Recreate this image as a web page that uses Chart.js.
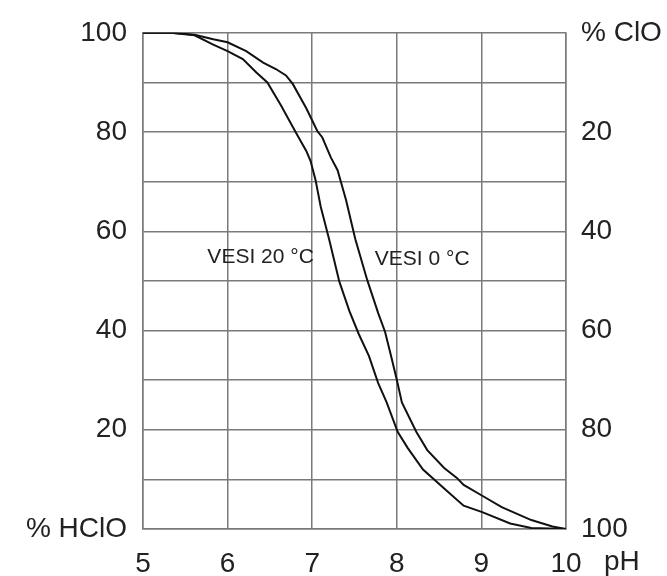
<!DOCTYPE html>
<html>
<head>
<meta charset="utf-8">
<script src="https://cdn.jsdelivr.net/npm/chart.js@4.4.0/dist/chart.umd.min.js"></script>
<style>
  html, body { margin: 0; padding: 0; background: #fff; }
</style>
</head>
<body>
<canvas id="mycanvas" width="667" height="576"></canvas>
<script>
// pH values and % HClO
var ph20 = [5, 5.33, 5.61, 5.83, 6.0, 6.18, 6.34, 6.47, 6.63, 6.81, 6.93, 6.98, 7.04, 7.10, 7.20, 7.32, 7.44, 7.55, 7.67, 7.78, 7.88, 8.01, 8.13, 8.31, 8.59, 8.79, 9.01, 9.34, 9.59, 10];
var hclo20 = [100, 100, 99.5, 97.6, 96.3, 94.7, 92.0, 90.0, 85.4, 79.8, 76.2, 74.2, 70.3, 65.0, 58.4, 49.9, 43.9, 39.3, 34.9, 29.4, 25.5, 19.6, 16.3, 12.0, 7.7, 4.7, 3.4, 1.1, 0.2, 0];

var ph0 = [5, 5.33, 5.61, 5.83, 6.0, 6.22, 6.42, 6.57, 6.69, 6.77, 6.93, 7.06, 7.12, 7.22, 7.30, 7.40, 7.51, 7.65, 7.78, 7.86, 7.93, 8.0, 8.06, 8.23, 8.36, 8.56, 8.71, 8.79, 9.01, 9.24, 9.59, 9.84, 10];
var hclo0 = [100, 100, 99.6, 98.7, 98.1, 96.3, 94.0, 92.7, 91.4, 89.7, 84.8, 80.2, 78.9, 74.9, 72.3, 66.3, 58.4, 50.2, 43.5, 39.8, 35.0, 30.1, 25.5, 19.6, 15.9, 12.3, 10.3, 8.9, 6.7, 4.4, 1.8, 0.5, 0];

var xTicks = [5, 6, 7, 8, 9, 10];
var leftLabels = {0: '% HClO', 20: '20', 40: '40', 60: '60', 80: '80', 100: '100'};
var rightLabels = {0: '% ClO', 20: '20', 40: '40', 60: '60', 80: '80', 100: '100'};

// where the curve names sit (pH, %)
var curveNames = [
  {text: 'VESI 20 °C', x: 6.39, y: 54.7},
  {text: 'VESI 0 °C', x: 8.30, y: 54.3}
];

function pts(xs, ys) {
  var out = [];
  for (var i = 0; i < xs.length; i++) out.push({x: xs[i], y: ys[i]});
  return out;
}

var FONT = '"Liberation Sans", Arial, sans-serif';
var gridCol = '#7a7a7a';

var extraText = {
  id: 'extraText',
  afterDraw: function(chart) {
    var ctx = chart.ctx;
    var xs = chart.scales.x, ys = chart.scales.y;
    ctx.save();
    ctx.fillStyle = '#222';
    ctx.font = '21px ' + FONT;
    ctx.textAlign = 'center';
    ctx.textBaseline = 'middle';
    curveNames.forEach(function(c) {
      ctx.fillText(c.text, xs.getPixelForValue(c.x), ys.getPixelForValue(c.y));
    });
    ctx.font = '28px ' + FONT;
    ctx.textAlign = 'left';
    ctx.fillText('pH', xs.getPixelForValue(10) + 38, xs.top + 33);
    ctx.restore();
  }
};

var ctx = document.getElementById('mycanvas').getContext('2d');
var chart = new Chart(ctx, {
  type: 'scatter',
  data: {
    datasets: [{
      label: 'VESI 20 °C',
      data: pts(ph20, hclo20),
      showLine: true,
      borderColor: '#111',
      borderWidth: 2,
      pointRadius: 0,
      yAxisID: 'y'
    }, {
      label: 'VESI 0 °C',
      data: pts(ph0, hclo0),
      showLine: true,
      borderColor: '#111',
      borderWidth: 2,
      pointRadius: 0,
      yAxisID: 'y'
    }]
  },
  options: {
    responsive: false,
    animation: false,
    layout: {padding: {top: 23, left: 0, right: 0, bottom: 0}},
    plugins: {legend: {display: false}, tooltip: {enabled: false}},
    scales: {
      x: {
        type: 'linear',
        min: 5, max: 10,
        afterBuildTicks: function(s) { s.ticks = xTicks.map(function(v) { return {value: v}; }); },
        afterFit: function(s) { s.height = 47; },
        ticks: {color: '#222', font: {size: 28, family: FONT}, padding: 18, maxRotation: 0},
        grid: {color: gridCol, lineWidth: 1.5, drawTicks: false},
        border: {color: gridCol, width: 1.5}
      },
      y: {
        position: 'left',
        min: 0, max: 100,
        afterFit: function(s) { s.width = 143; },
        ticks: {
          stepSize: 10,
          color: '#222',
          font: {size: 28, family: FONT},
          padding: 16,
          callback: function(v) { return leftLabels[v] !== undefined ? leftLabels[v] : ''; }
        },
        grid: {color: gridCol, lineWidth: 1.5, drawTicks: false},
        border: {color: gridCol, width: 1.5}
      },
      y2: {
        position: 'right',
        min: 0, max: 100,
        reverse: true,
        afterFit: function(s) { s.width = 101; },
        ticks: {
          stepSize: 10,
          color: '#222',
          font: {size: 28, family: FONT},
          padding: 15,
          callback: function(v) { return rightLabels[v] !== undefined ? rightLabels[v] : ''; }
        },
        grid: {display: false, drawTicks: false},
        border: {color: gridCol, width: 1.5}
      }
    }
  },
  plugins: [extraText]
});
</script>
</body>
</html>
